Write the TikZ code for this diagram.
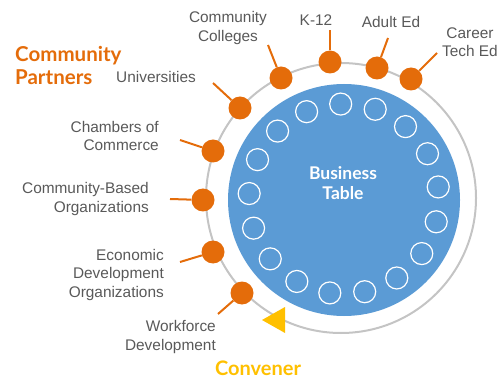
\documentclass[tikz,border=0pt]{standalone}
\usepackage{fontspec}
\setmainfont{Liberation Sans}
\newfontfamily\headfont{Lato}
\usepackage{xcolor}
\definecolor{tableblue}{HTML}{5B9BD5}
\definecolor{partnerorange}{HTML}{E46C0A}
\definecolor{convenergold}{HTML}{FFC000}
\definecolor{labelgray}{HTML}{595959}
\definecolor{ringgray}{HTML}{C4C4C4}

\begin{document}
\begin{tikzpicture}[x=1pt,y=-1pt,
  partner/.style={circle,fill=partnerorange,minimum size=23pt,inner sep=0pt},
  spoke/.style={partnerorange,line width=2pt},
  seat/.style={white,line width=1.2pt},
  lbl/.style={text=labelgray,font=\fontsize{15.4}{18.5}\selectfont,inner sep=0pt}]
\useasboundingbox (0,0) rectangle (500,379);

\draw[ringgray,line width=2pt] (341,198) circle (135pt);
\node[circle,fill=tableblue,minimum size=232pt,inner sep=0pt] (table) at (344,200) {};
\node[text=white,font=\headfont\bfseries\fontsize{17.5}{20}\selectfont,align=center] (title) at (343,183) {Business\\Table};

% seats round the table
\foreach \k in {0,...,16}
  \draw[seat] (344,199) ++({\k*360/17-92}:95) circle (11pt);

% community partners
\node[partner] (ccdot) at (281,78) {};
\node[partner] (k12dot) at (330,62) {};
\node[partner] (adultdot) at (377,68) {};
\node[partner] (careerdot) at (411,79) {};
\node[partner] (univdot) at (240,108) {};
\node[partner] (chamberdot) at (213,151) {};
\node[partner] (cbodot) at (203,200) {};
\node[partner] (econdot) at (213,252) {};
\node[partner] (workdot) at (242,293) {};

\coordinate (ccend) at (268,45);
\coordinate (k12end) at (330,30);
\coordinate (adultend) at (388,38);
\coordinate (careerend) at (437,53);
\coordinate (univend) at (213,83);
\coordinate (chamberend) at (180,140);
\coordinate (cboend) at (170,199);
\coordinate (econend) at (180,262);
\coordinate (workend) at (218,314);

\draw[spoke] (ccdot) -- (ccend);
\draw[spoke] (k12dot) -- (k12end);
\draw[spoke] (adultdot) -- (adultend);
\draw[spoke] (careerdot) -- (careerend);
\draw[spoke] (univdot) -- (univend);
\draw[spoke] (chamberdot) -- (chamberend);
\draw[spoke] (cbodot) -- (cboend);
\draw[spoke] (econdot) -- (econend);
\draw[spoke] (workdot) -- (workend);

% convener marker
\fill[convenergold] (262,320) -- (285,307) -- (285,333) -- cycle;

\node[lbl,align=center] (cclbl) at (228,28) {Community\\Colleges};
\node[lbl] (k12lbl) at (316,20) {K-12};
\node[lbl] (adultlbl) at (391,22) {Adult Ed};
\node[lbl,align=center] (careerlbl) at (470,42) {Career\\Tech Ed};
\node[lbl] (univlbl) at (156,77) {Universities};
\node[lbl,align=right,anchor=east] (chamberlbl) at (159,136) {Chambers of\\Commerce};
\node[lbl,align=right,anchor=east] (cbolbl) at (149,199) {Community-Based\\Organizations};
\node[lbl,align=right,anchor=east] (econlbl) at (164,275) {Economic\\Development\\Organizations};
\node[lbl,align=right,anchor=east] (worklbl) at (216,337) {Workforce\\Development};

\node[text=partnerorange,font=\headfont\bfseries\fontsize{20.5}{23}\selectfont,align=left,anchor=west,inner sep=0pt] (partners) at (15,65) {Community\\Partners};
\node[text=convenergold,font=\headfont\bfseries\fontsize{20}{23}\selectfont,inner sep=0pt] (convener) at (258,368) {Convener};
\end{tikzpicture}
\end{document}
